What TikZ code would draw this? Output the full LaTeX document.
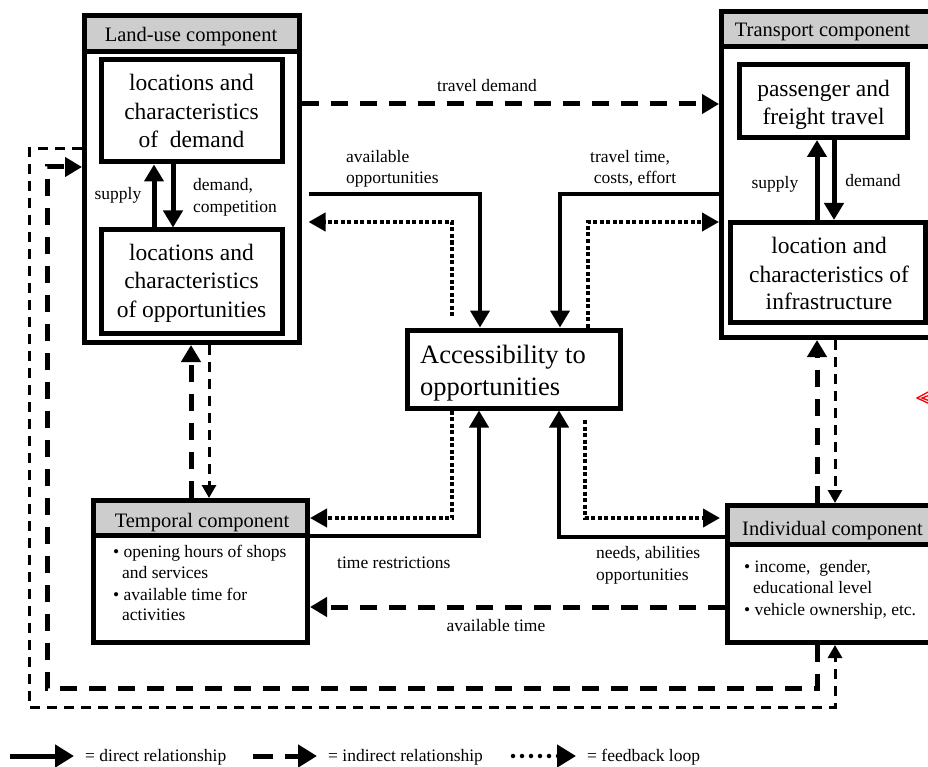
\documentclass[tikz,border=0pt]{standalone}
\usepackage{fontspec}
\setmainfont{Liberation Serif}
\usetikzlibrary{arrows.meta}
\definecolor{hdrgray}{RGB}{205,205,205}
\newcommand\hdrfnt{\fontsize{20.5}{24}\selectfont}
\newcommand\innfnt{\fontsize{23.5}{29}\selectfont}
\newcommand\labfnt{\fontsize{17.5}{21}\selectfont}
\newcommand\accfnt{\fontsize{26.5}{32}\selectfont}
\begin{document}
\begin{tikzpicture}[x=1pt,y=-1pt,
 obox/.style={draw,line width=5pt,rectangle,inner sep=0pt},
 hfill/.style={fill=hdrgray,inner sep=0pt,rectangle},
 sepline/.style={line width=5pt},
 hd/.style={font=\hdrfnt,inner sep=0pt,anchor=base},
 hdw/.style={font=\hdrfnt,inner sep=0pt,anchor=base west},
 inn/.style={font=\innfnt,inner sep=0pt,anchor=base},
 accw/.style={font=\accfnt,inner sep=0pt,anchor=base west},
 lab/.style={font=\labfnt,inner sep=0pt,anchor=base},
 labw/.style={font=\labfnt,inner sep=0pt,anchor=base west},
 direct/.style={line width=4pt,-{Triangle[length=17pt,width=19pt]}},
 indthick/.style={line width=5pt,dash pattern=on 17pt off 12pt,-{Triangle[length=17pt,width=19pt]}},
 indthin/.style={line width=3pt,dash pattern=on 10pt off 7pt,-{Triangle[length=13pt,width=14pt]}},
 fback/.style={line width=4pt,dash pattern=on 4pt off 2.5pt,-{Triangle[length=17pt,width=18pt]}},
]
\useasboundingbox (0,0) rectangle (928,767);
\clip (0,0) rectangle (928,767);

% ---------- Land-use component ----------
\node[obox,minimum width=214.5pt,minimum height=327pt] (lu) at (191.75,179) {};
\node[hfill,minimum width=210pt,minimum height=31pt] (luh) at (192,33.5) {};
\draw[sepline] (lu.west |- 0,51.5) -- (lu.east |- 0,51.5);
\node[hd] (luht) at (191,41.5) {Land-use component};
\node[obox,minimum width=181pt,minimum height=102pt] (dem) at (191.5,111) {};
\node[inn] (dem1) at (191.5,91) {locations and};
\node[inn] (dem2) at (191.5,119.5) {characteristics};
\node[inn] (dem3) at (191.5,148) {of\ \ demand};
\node[obox,minimum width=181pt,minimum height=103pt] (opp) at (191.5,281.5) {};
\node[inn] (opp1) at (191.5,260) {locations and};
\node[inn] (opp2) at (191.5,288.5) {characteristics};
\node[inn] (opp3) at (191.5,317) {of opportunities};
\draw[direct,line width=5pt] (154,0 |- opp.north) -- (154,0 |- dem.south);
\draw[direct,line width=5pt] (173,0 |- dem.south) -- (173,0 |- opp.north);
\node[lab] (lsup) at (118,200) {supply};
\node[labw] (ldem1) at (193,191) {demand,};
\node[labw] (ldem2) at (193,213) {competition};

% ---------- Transport component ----------
\node[obox,minimum width=223.5pt,minimum height=326pt] (tr) at (833.25,174.5) {};
\node[hfill,minimum width=219pt,minimum height=30pt] (trh) at (833.5,29) {};
\draw[sepline] (tr.west |- 0,46.5) -- (tr.east |- 0,46.5);
\node[hd] (trht) at (822.5,37) {Transport component};
\node[obox,minimum width=168pt,minimum height=73pt] (pas) at (823.5,101) {};
\node[inn] (pas1) at (823.5,97) {passenger and};
\node[inn] (pas2) at (823.5,125) {freight travel};
\node[obox,minimum width=194.5pt,minimum height=100pt] (inf) at (827.75,272.5) {};
\node[inn] (inf1) at (829,253) {location and};
\node[inn] (inf2) at (829,282) {characteristics of};
\node[inn] (inf3) at (829,309) {infrastructure};
\draw[direct,line width=5pt] (817,0 |- inf.north) -- (817,0 |- pas.south);
\draw[direct,line width=5pt] (834,0 |- pas.south) -- (834,0 |- inf.north);
\node[lab] (tsup) at (775,189) {supply};
\node[lab] (tdem) at (873,187) {demand};

% ---------- Accessibility ----------
\node[obox,minimum width=213pt,minimum height=78pt] (acc) at (513.5,369) {};
\node[accw] (acc1) at (420,363) {Accessibility to};
\node[accw] (acc2) at (420,395) {opportunities};

% ---------- Temporal component ----------
\node[obox,minimum width=214.5pt,minimum height=142pt] (tmp) at (200.25,571.5) {};
\node[hfill,minimum width=209.5pt,minimum height=30pt] (tmph) at (200.25,518) {};
\draw[sepline] (tmp.west |- 0,535.5) -- (tmp.east |- 0,535.5);
\node[hd] (tmpht) at (202,527) {Temporal component};
\node[labw] (tb1) at (113,557) {\textbullet\ opening hours of shops};
\node[labw] (tb2) at (122,578) {and services};
\node[labw] (tb3) at (113,600) {\textbullet\ available time for};
\node[labw] (tb4) at (122,620) {activities};

% ---------- Individual component ----------
\node[obox,minimum width=222.5pt,minimum height=137pt] (ind) at (838.75,574) {};
\node[hfill,minimum width=218pt,minimum height=34pt] (indh) at (839,525) {};
\draw[sepline] (ind.west |- 0,544.5) -- (ind.east |- 0,544.5);
\node[hdw] (indht) at (742,535) {Individual component};
\node[labw] (ib1) at (744,572) {\textbullet\ income,\ \ gender,};
\node[labw] (ib2) at (753,593) {educational level};
\node[labw] (ib3) at (744,615) {\textbullet\ vehicle ownership, etc.};

% ---------- connectors ----------
\coordinate (luE) at ([xshift=7pt]lu.east);
\coordinate (fb1) at (452,316);
\coordinate (fb2) at (585,420);
\draw[indthick] (lu.east |- 0,104) -- (tr.west |- 0,104);
\node[lab] (ltd) at (487,92) {travel demand};

\draw[direct] (luE |- 0,194) -| (480,0 |- acc.north);
\draw[fback] (fb1) |- (luE |- 0,222);
\node[labw] (lao1) at (346,163) {available};
\node[labw] (lao2) at (346,184) {opportunities};

\draw[direct] (tr.west |- 0,194) -| (560,0 |- acc.north);
\draw[fback] (588,0 |- acc.north) |- (tr.west |- 0,222);
\node[lab] (ltt1) at (630,163) {travel time,};
\node[lab] (ltt2) at (635,184) {costs, effort};

\draw[direct] (tmp.east |- 0,536) -| (479,0 |- acc.south);
\draw[fback] (452,0 |- acc.south) |- (tmp.east |- 0,518);
\node[labw] (ltr) at (337,568) {time restrictions};

\draw[direct] (ind.west |- 0,536.5) -| (559,0 |- acc.south);
\draw[fback] (fb2) |- ([xshift=-5pt]ind.west |- 0,518);
\node[labw] (lna1) at (596,558) {needs, abilities};
\node[labw] (lna2) at (596,580) {opportunities};

\draw[indthick] (ind.west |- 0,607) -- (tmp.east |- 0,607);
\node[lab] (lat) at (496,631) {available time};

\draw[indthick] (191,0 |- tmp.north) -- (191,0 |- lu.south);
\draw[indthin] (209,0 |- lu.south) -- (209,0 |- tmp.north);
\draw[indthick] (817,0 |- ind.north) -- (817,0 |- tr.south);
\draw[indthin] (835,0 |- tr.south) -- (835,0 |- ind.north);

\draw[indthick] (817,0 |- ind.south) -- (817,688) -- (47,688) -- (47,167) -- (lu.west |- 0,167);
\draw[indthin] (lu.west |- 0,149) -- (29,149) -- (29,707) -- (835,707) -- (835,0 |- ind.south);

% ---------- red mark ----------
\draw[red,line width=1.3pt] (930,391) -- (917,398) -- (930,404);
\draw[red,line width=1.3pt] (930,395) -- (922,398) -- (930,401);

% ---------- legend ----------
\coordinate (g1a) at (10,756);
\coordinate (g1b) at (74,756);
\coordinate (g2a) at (253,756);
\coordinate (g2b) at (317,756);
\coordinate (g3a) at (513,756);
\coordinate (g3b) at (576,756);
\draw[line width=5pt,-{Triangle[length=19pt,width=22pt]}] (g1a) -- (g1b);
\node[labw] (gl1) at (85,761) {= direct relationship};
\draw[line width=5pt,dash pattern=on 20pt off 12pt,-{Triangle[length=19pt,width=22pt]}] (g2a) -- (g2b);
\node[labw] (gl2) at (328,761) {= indirect relationship};
\draw[line width=4.5pt,line cap=round,dash pattern=on 0pt off 9pt,-{Triangle[length=19pt,width=22pt]}] (g3a) -- (g3b);
\node[labw] (gl3) at (587,761) {= feedback loop};
\end{tikzpicture}
\end{document}
